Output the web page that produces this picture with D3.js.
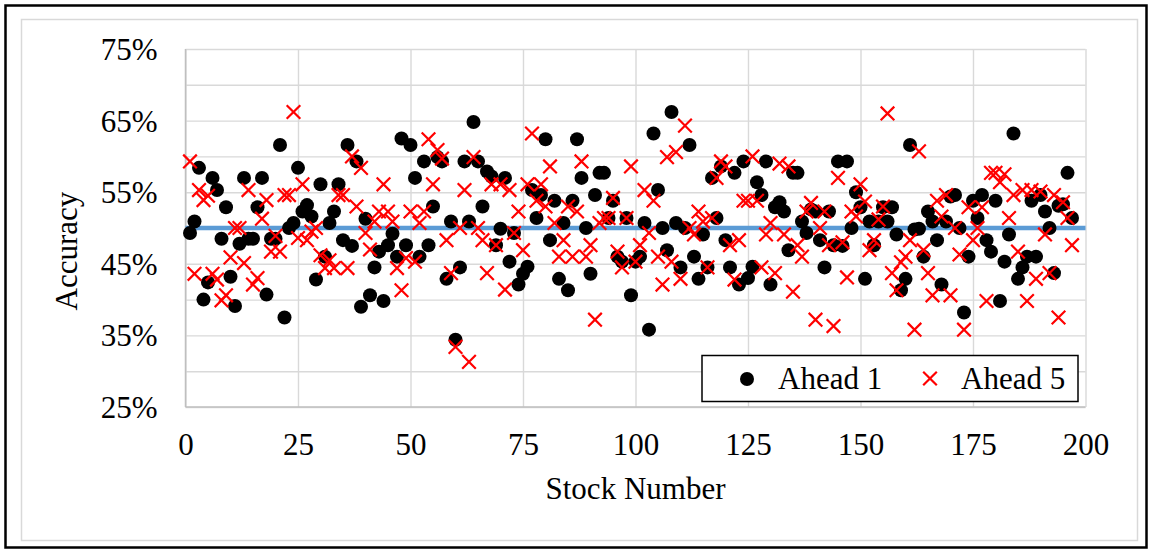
<!DOCTYPE html>
<html>
<head>
<meta charset="utf-8">
<script src="https://cdn.jsdelivr.net/npm/d3@7"></script>
<style>
  html, body { margin: 0; padding: 0; background: #fff; }
  svg { display: block; }
  text { font-family: "Liberation Serif", "Times New Roman", serif; fill: #000; }
</style>
</head>
<body>
<svg id="chart" width="1152" height="553"></svg>
<script>
// Prediction accuracy (%) per stock, one value per stock number 1..197
const ahead1 = [
  49.3, 50.9, 58.4, 40.0, 42.4, 57.0, 55.3, 48.5, 52.9, 43.2,
  39.1, 47.8, 57.0, 48.5, 48.5, 52.9, 57.0, 40.7, 48.5, 48.5,
  61.6, 37.5, 50.0, 50.7, 58.4, 52.3, 53.2, 51.6, 42.8, 56.1,
  46.0, 50.7, 52.3, 56.1, 48.3, 61.6, 47.5, 59.3, 39.0, 51.3,
  40.6, 44.5, 46.7, 39.8, 47.6, 49.2, 46.0, 62.5, 47.6, 61.6,
  57.0, 46.0, 59.3, 47.6, 53.0, 59.9, 59.3, 42.9, 50.9, 34.4,
  44.5, 59.3, 50.9, 64.8, 59.3, 53.0, 57.9, 57.2, 47.6, 49.9,
  57.0, 45.3, 49.3, 42.1, 43.6, 44.6, 55.3, 51.4, 54.6, 62.4,
  48.3, 53.8, 42.9, 50.7, 41.3, 53.8, 62.4, 57.0, 50.0, 43.6,
  54.6, 57.7, 57.7, 51.4, 53.8, 46.0, 45.3, 51.4, 40.6, 45.3,
  46.0, 50.7, 35.8, 63.2, 55.3, 50.0, 46.9, 66.2, 50.7, 44.5,
  50.0, 61.6, 46.0, 42.9, 49.1, 44.5, 57.0, 51.4, 58.6, 48.3,
  44.5, 57.7, 42.1, 59.3, 43.0, 44.6, 56.4, 54.6, 59.3, 42.1,
  52.9, 53.6, 52.3, 46.9, 57.7, 57.7, 50.9, 49.3, 52.6, 52.3,
  48.3, 44.5, 52.3, 47.6, 59.3, 47.5, 59.3, 50.0, 55.0, 52.9,
  42.9, 50.9, 47.6, 50.9, 52.9, 50.9, 52.9, 49.1, 41.3, 42.9,
  61.6, 49.8, 49.9, 46.0, 52.3, 50.9, 48.3, 42.1, 50.9, 54.4,
  54.6, 50.0, 38.2, 46.0, 53.8, 51.4, 54.6, 48.3, 46.7, 53.8,
  39.8, 45.3, 49.1, 63.2, 42.9, 44.5, 46.0, 53.8, 46.0, 54.6,
  52.3, 50.0, 43.7, 53.1, 53.3, 57.7, 51.4
];

const ahead5 = [
  59.3, 43.6, 55.3, 53.9, 54.5, 43.6, 42.8, 39.9, 40.6, 45.9,
  50.0, 50.0, 45.1, 55.3, 42.1, 43.0, 51.3, 53.9, 46.7, 48.9,
  46.7, 54.6, 54.6, 66.2, 48.6, 56.1, 48.3, 49.5, 50.0, 46.2,
  44.4, 45.5, 44.4, 54.6, 54.6, 44.4, 60.0, 53.0, 58.4, 49.3,
  47.0, 50.9, 52.3, 56.1, 52.3, 50.9, 44.4, 41.3, 45.8, 52.3,
  45.3, 50.7, 52.3, 62.4, 56.1, 60.9, 59.7, 48.3, 43.7, 33.4,
  50.0, 55.3, 31.3, 59.9, 50.0, 48.3, 43.7, 56.1, 47.6, 56.1,
  41.4, 55.3, 49.3, 52.3, 46.9, 56.1, 63.2, 53.8, 56.1, 53.0,
  58.6, 50.7, 46.0, 48.3, 53.0, 46.0, 52.3, 59.3, 46.0, 47.6,
  37.2, 50.7, 51.4, 51.4, 54.2, 46.7, 44.5, 51.4, 58.6, 45.3,
  47.6, 55.3, 49.3, 53.8, 46.0, 42.1, 59.9, 45.3, 60.6, 42.9,
  64.3, 50.0, 49.1, 52.3, 50.9, 44.5, 51.4, 57.0, 59.3, 58.6,
  47.6, 42.8, 48.3, 53.8, 53.8, 60.0, 53.8, 44.5, 49.1, 50.7,
  43.7, 59.0, 49.1, 58.6, 41.1, 47.6, 46.0, 52.3, 53.5, 37.2,
  50.0, 52.3, 47.6, 36.3, 57.0, 48.0, 43.1, 52.3, 51.6, 56.1,
  53.7, 46.9, 48.3, 51.2, 53.0, 66.0, 43.7, 41.3, 45.2, 46.0,
  48.3, 35.8, 60.7, 46.9, 43.7, 40.6, 53.8, 51.6, 54.6, 40.6,
  50.0, 46.3, 35.8, 52.9, 48.3, 50.0, 52.9, 39.8, 57.7, 57.7,
  56.4, 57.5, 51.4, 54.6, 46.7, 55.3, 39.8, 55.3, 42.9, 55.1,
  49.1, 43.7, 54.6, 37.5, 53.6, 51.4, 47.6
];

// 50% reference level across the whole stock range
const baseline = [{ x: 0, y: 50 }, { x: 200, y: 50 }];

const xTicks = [0, 25, 50, 75, 100, 125, 150, 175, 200];
const yTicks = [25, 35, 45, 55, 65, 75];
const yGrid = [25, 30, 35, 40, 45, 50, 55, 60, 65, 70, 75];
const seriesNames = ["Ahead 1", "Ahead 5"];

const svg = d3.select("#chart");
const W = 1152, H = 553;

// frame: outer black border and inner light chart-area border
svg.append("rect").attr("x", 5.5).attr("y", 5.5).attr("width", W - 11).attr("height", H - 11)
  .attr("fill", "#fff").attr("stroke", "#000").attr("stroke-width", 2.5);
svg.append("rect").attr("x", 21.5).attr("y", 19.5).attr("width", 1116).attr("height", 521)
  .attr("fill", "none").attr("stroke", "#d9d9d9").attr("stroke-width", 1.5);

const plot = { left: 185.5, right: 1085.5, top: 49, bottom: 407 };
const x = d3.scaleLinear().domain([0, 200]).range([plot.left, plot.right]);
const y = d3.scaleLinear().domain([25, 75]).range([plot.bottom, plot.top]);

// gridlines
const grid = svg.append("g");
grid.append("g")
  .attr("transform", `translate(${plot.left},0)`)
  .call(d3.axisLeft(y).tickValues(yGrid).tickSize(-(plot.right - plot.left)).tickFormat(""))
  .call(g => g.select(".domain").remove())
  .call(g => g.selectAll("line").attr("stroke", "#d9d9d9").attr("stroke-width", 1.4));
grid.append("g")
  .attr("transform", `translate(0,${plot.bottom})`)
  .call(d3.axisBottom(x).tickValues(xTicks).tickSize(-(plot.bottom - plot.top)).tickFormat(""))
  .call(g => g.select(".domain").remove())
  .call(g => g.selectAll("line").attr("stroke", "#d9d9d9").attr("stroke-width", 1.4));

// axis lines
svg.append("line").attr("x1", plot.left).attr("x2", plot.left).attr("y1", plot.top).attr("y2", plot.bottom)
  .attr("stroke", "#bfbfbf").attr("stroke-width", 1.5);
svg.append("line").attr("x1", plot.left).attr("x2", plot.right).attr("y1", plot.bottom).attr("y2", plot.bottom)
  .attr("stroke", "#bfbfbf").attr("stroke-width", 1.5);

// tick labels
const yAxis = svg.append("g")
  .attr("transform", `translate(${plot.left},0)`)
  .call(d3.axisLeft(y).tickValues(yTicks).tickSize(0).tickPadding(28).tickFormat(d => d + "%"));
yAxis.select(".domain").remove();
yAxis.selectAll("text").attr("font-size", 31).attr("font-family", "Liberation Serif, serif")
  .attr("dy", "0.34em").attr("fill", "#000");

const xAxis = svg.append("g")
  .attr("transform", `translate(0,${plot.bottom})`)
  .call(d3.axisBottom(x).tickValues(xTicks).tickSize(0).tickFormat(d3.format("d")));
xAxis.select(".domain").remove();
xAxis.selectAll("text").attr("font-size", 31).attr("font-family", "Liberation Serif, serif")
  .attr("y", 48).attr("dy", 0).attr("fill", "#000");

// axis titles
svg.append("text").attr("x", (plot.left + plot.right) / 2).attr("y", 499)
  .attr("text-anchor", "middle").attr("font-size", 31).text("Stock Number");
svg.append("text").attr("transform", "translate(77,251) rotate(-90)")
  .attr("text-anchor", "middle").attr("font-size", 31).text("Accuracy");

// 50% line
const line = d3.line().x(d => x(d.x)).y(d => y(d.y));
svg.append("path").datum(baseline).attr("d", line)
  .attr("fill", "none").attr("stroke", "#5b9bd5").attr("stroke-width", 4.5);

// Ahead 1: black dots
svg.append("g").selectAll("circle").data(ahead1).join("circle")
  .attr("cx", (d, i) => x(i + 1)).attr("cy", d => y(d)).attr("r", 7).attr("fill", "#000");

// Ahead 5: red crosses
const cross = 6.8;
const xMark = (px, py) => `M${px - cross},${py - cross}L${px + cross},${py + cross}M${px - cross},${py + cross}L${px + cross},${py - cross}`;
svg.append("g").selectAll("path").data(ahead5).join("path")
  .attr("d", (d, i) => xMark(x(i + 1), y(d)))
  .attr("stroke", "#ff0000").attr("stroke-width", 2.2).attr("fill", "none");

// legend
const lg = svg.append("g");
lg.append("rect").attr("x", 702).attr("y", 355.5).attr("width", 376).attr("height", 46)
  .attr("fill", "#fff").attr("stroke", "#000").attr("stroke-width", 1.5);
lg.append("circle").attr("cx", 747).attr("cy", 379).attr("r", 7).attr("fill", "#000");
lg.append("text").attr("x", 778).attr("y", 389).attr("font-size", 31).text(seriesNames[0]);
lg.append("path").attr("d", xMark(930, 378.5)).attr("stroke", "#ff0000").attr("stroke-width", 2.2).attr("fill", "none");
lg.append("text").attr("x", 961).attr("y", 389).attr("font-size", 31).text(seriesNames[1]);
</script>
</body>
</html>
